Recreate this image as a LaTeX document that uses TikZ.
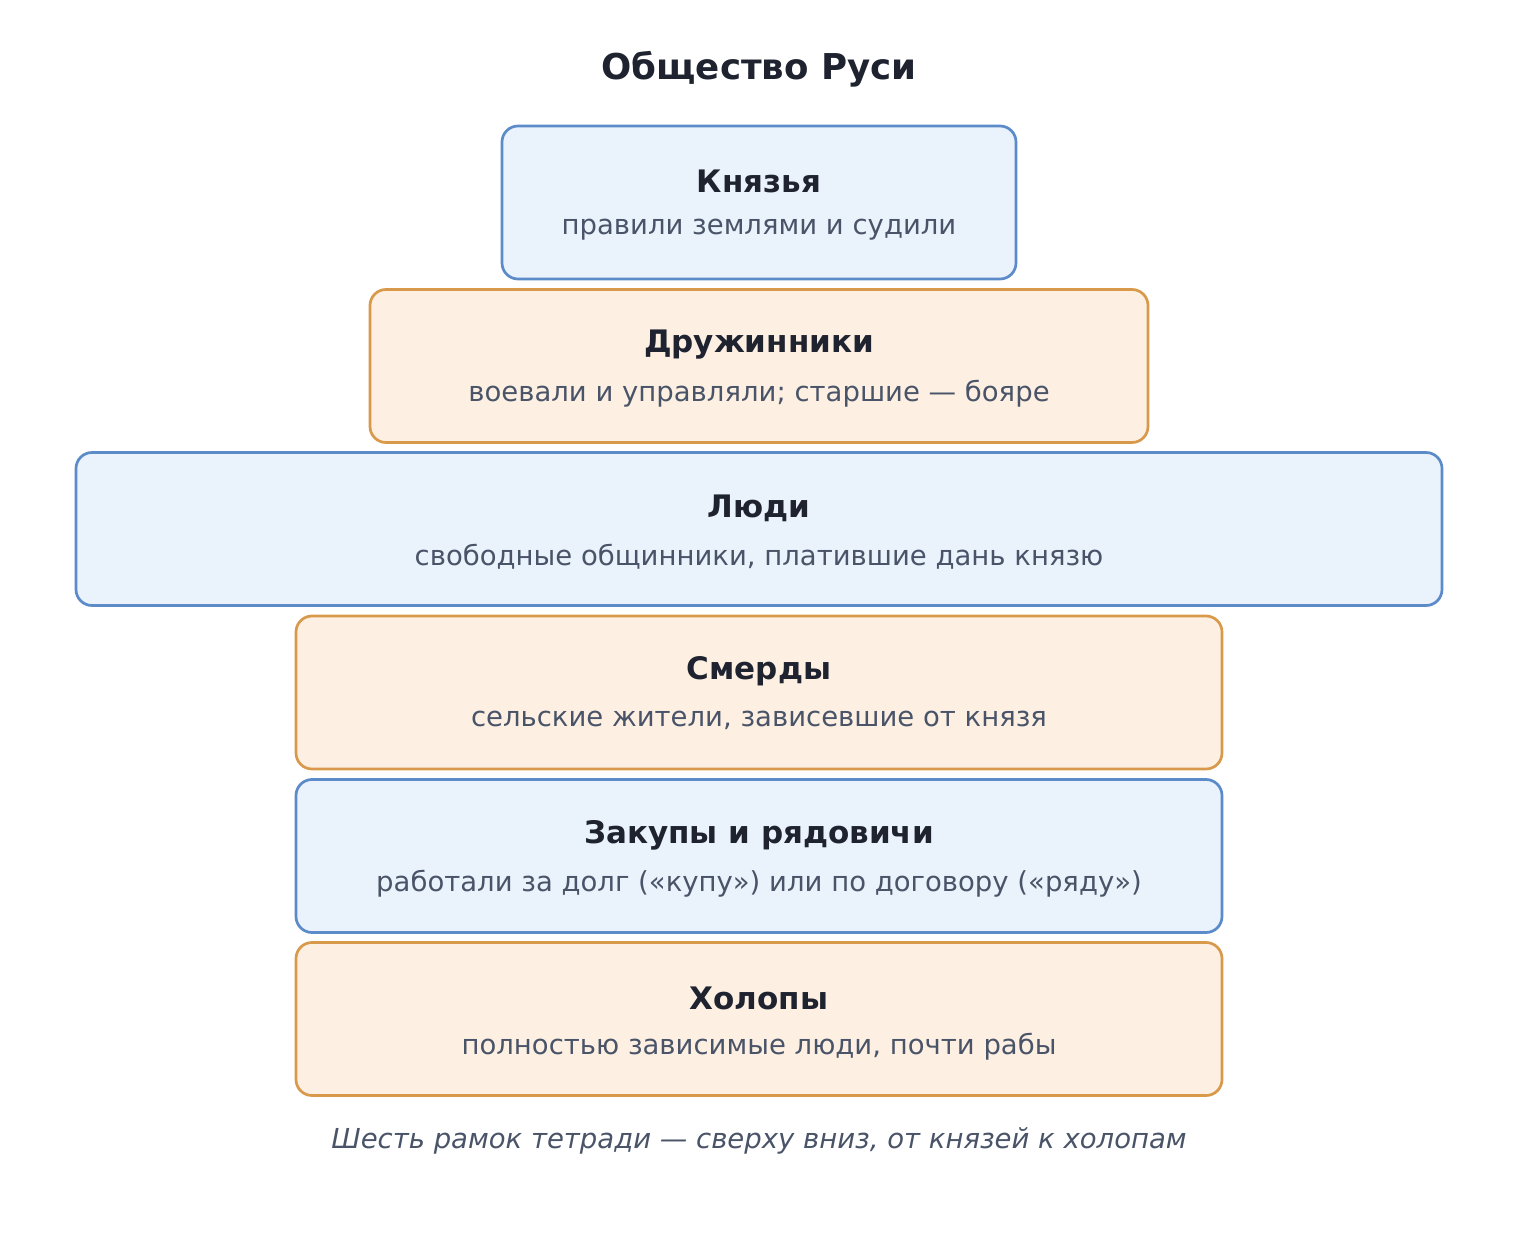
\documentclass[tikz,border=0pt]{standalone}
\usepackage{fontspec}
\setmainfont{DejaVu Sans}
\definecolor{blueline}{RGB}{91,139,201}
\definecolor{bluefill}{RGB}{234,242,252}
\definecolor{orangeline}{RGB}{217,153,74}
\definecolor{orangefill}{RGB}{253,240,227}
\definecolor{darktext}{RGB}{31,35,48}
\definecolor{greytext}{RGB}{74,84,104}
\tikzset{every picture/.style={line width=2.7pt}}
\begin{document}
\begin{tikzpicture}[x=1pt,y=1pt,yscale=-1,
  box/.style={draw,rounded corners=16pt,minimum height=153pt},
  bluebox/.style={box,draw=blueline,fill=bluefill},
  orangebox/.style={box,draw=orangeline,fill=orangefill},
  head/.style={font=\fontsize{31}{36}\selectfont\bfseries,text=darktext},
  sub/.style={font=\fontsize{27.5}{32}\selectfont,text=greytext}]
\useasboundingbox (0,0) rectangle (1518,1238);

% Title
\node (title) [font=\fontsize{35.6}{40}\selectfont\bfseries,text=darktext] at (759,69) {Общество Руси};

% Boxes
\node (knyaz) [bluebox,minimum width=514pt] at (759,202.5) {};
\node (druzh) [orangebox,minimum width=778pt] at (759,366) {};
\node (lyudi) [bluebox,minimum width=1366pt] at (759,529) {};
\node (smerd) [orangebox,minimum width=926pt] at (759,692.5) {};
\node (zakup) [bluebox,minimum width=926pt] at (759,856) {};
\node (kholop) [orangebox,minimum width=926pt] at (759,1019) {};

% Texts
\node (knyazh) [head] at (759,181) {Князья};
\node (knyazs) [sub] at (759,230) {правили землями и судили};
\node (druzhh) [head] at (759,345) {Дружинники};
\node (druzhs) [sub] at (759,394) {воевали и управляли; старшие — бояре};
\node (lyudih) [head] at (759,508) {Люди};
\node (lyudis) [sub] at (759,557) {свободные общинники, платившие дань князю};
\node (smerdh) [head] at (759,671) {Смерды};
\node (smerds) [sub] at (759,720) {сельские жители, зависевшие от князя};
\node (zakuph) [head] at (759,835) {Закупы и рядовичи};
\node (zakups) [sub] at (759,884) {работали за долг («купу») или по договору («ряду»)};
\node (kholoph) [head] at (759,998) {Холопы};
\node (kholops) [sub] at (759,1047) {полностью зависимые люди, почти рабы};

% Caption
\node (caption) [sub,font=\fontsize{27.5}{32}\selectfont\itshape] at (759,1141) {Шесть рамок тетради — сверху вниз, от князей к холопам};
\end{tikzpicture}
\end{document}
